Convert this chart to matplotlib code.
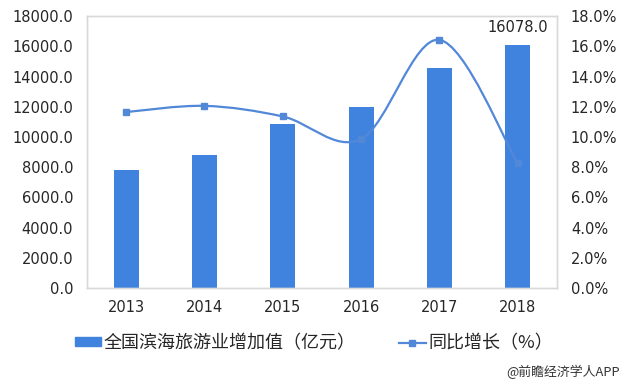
import matplotlib.pyplot as plt
import numpy as np
from matplotlib.path import Path
from matplotlib.patches import PathPatch
from matplotlib.lines import Line2D
from matplotlib.patches import Patch

plt.rcParams['font.family'] = ['DejaVu Sans', 'Noto Sans CJK SC']

years = ['2013', '2014', '2015', '2016', '2017', '2018']
value = [7800, 8800, 10850, 12000, 14550, 16078]   # 亿元
growth = [11.65, 12.06, 11.36, 9.86, 16.43, 8.25]  # %

bar_color = '#3F83DF'
line_color = '#5288D8'
text_color = '#262626'

fig = plt.figure(figsize=(6.23, 3.85), dpi=100)
ax = fig.add_axes([0.1396, 0.252, 0.7544, 0.706])
ax2 = ax.twinx()

x = np.arange(len(years))
ax.bar(x, value, width=0.32, color=bar_color, zorder=2)
ax.text(x[-1], value[-1] + 700, '%.1f' % value[-1], ha='center', va='bottom',
        fontsize=10.5, color=text_color)

# smoothed line (catmull-rom -> bezier), like excel's smoothed lines
pts = np.column_stack([x, growth]).astype(float)
ext = np.vstack([pts[0], pts, pts[-1]])
verts = [pts[0]]
codes = [Path.MOVETO]
for i in range(len(pts) - 1):
    p0, p1, p2, p3 = ext[i], ext[i + 1], ext[i + 2], ext[i + 3]
    verts += [p1 + (p2 - p0) / 6, p2 - (p3 - p1) / 6, p2]
    codes += [Path.CURVE4] * 3
ax2.add_patch(PathPatch(Path(verts, codes), fill=False, edgecolor=line_color, lw=1.6, zorder=3))
ax2.plot(x, growth, 's', color=line_color, markersize=5, zorder=4)

ax.set_xlim(-0.5, 5.5)
ax.set_ylim(0, 18000)
ax.set_yticks(np.arange(0, 18001, 2000))
ax.set_yticklabels(['%.1f' % v for v in np.arange(0, 18001, 2000)])
ax2.set_ylim(0, 18)
ax2.set_yticks(np.arange(0, 18.1, 2))
ax2.set_yticklabels(['%.1f%%' % v for v in np.arange(0, 18.1, 2)])
ax.set_xticks(x)
ax.set_xticklabels(years)

for a in (ax, ax2):
    a.tick_params(length=0, labelsize=10.5, colors=text_color)
    for s in a.spines.values():
        s.set_color('#D9D9D9')
        s.set_linewidth(1)
ax.tick_params(axis='y', pad=10)
ax2.tick_params(axis='y', pad=10)
ax.tick_params(axis='x', pad=9)

handles = [Patch(color=bar_color),
           Line2D([], [], color=line_color, lw=1.6, marker='s', markersize=4)]
labels = ['全国滨海旅游业增加值（亿元）', '同比增长（%）']
fig.legend(handles, labels, loc='center left', bbox_to_anchor=(0.12, 0.109), ncol=2,
           frameon=False, prop={'family': ['Noto Sans CJK SC'], 'size': 13},
           handlelength=1.45, handleheight=0.4,
           handletextpad=0.17, columnspacing=2.4, borderaxespad=0, borderpad=0,
           labelcolor=text_color)

fig.text(0.995, 0.034, '@前瞻经济学人APP', ha='right', va='center', fontsize=9.3,
         color='#333333', family=['Noto Sans CJK SC'])

fig.savefig('out.png', dpi=100)
